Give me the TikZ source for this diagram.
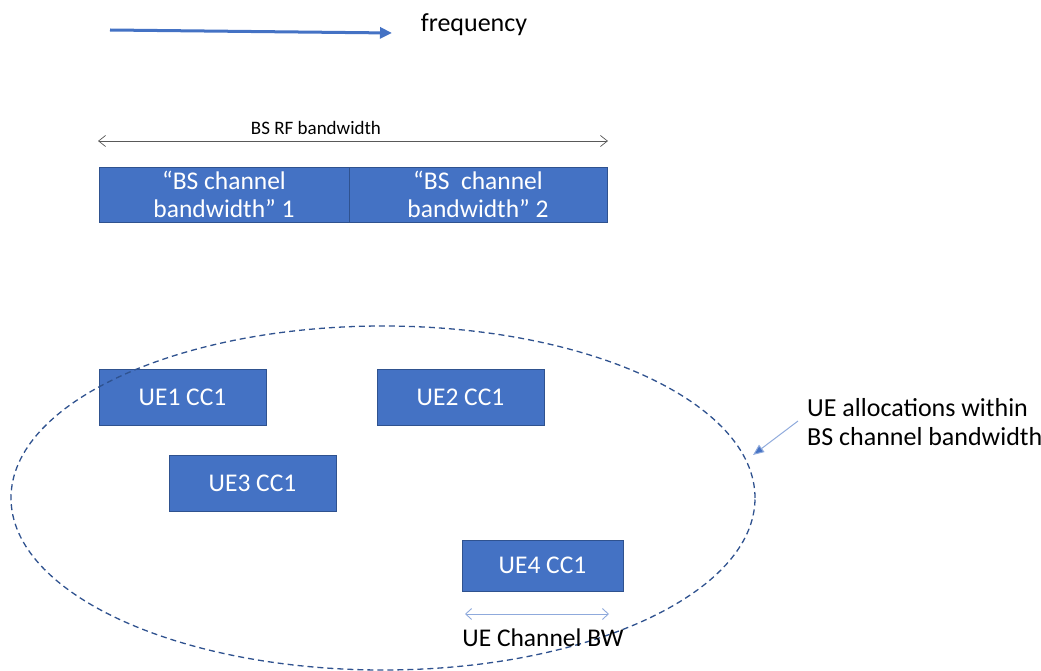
\documentclass[tikz,border=0pt]{standalone}
\usepackage{fontspec}
\setmainfont{Carlito}
\usetikzlibrary{arrows.meta,shapes.geometric}
\definecolor{accent}{HTML}{4472C4}
\definecolor{accentdark}{HTML}{2F528F}
\definecolor{accentlight}{HTML}{8FAADC}
\definecolor{guide}{HTML}{595959}
\tikzset{
  band/.style={draw=accentdark, line width=0.8pt, fill=accent, text=white,
    font=\fontsize{25.5}{28}\selectfont, align=center, inner sep=0pt},
  label/.style={text=black, inner sep=0pt},
}
\begin{document}
\begin{tikzpicture}[x=1pt,y=1pt]
\useasboundingbox (0,0) rectangle (1041,-671);

% frequency axis
\coordinate (fs) at (110,-30);
\coordinate (fe) at (392,-33);
\draw[accent, line width=3pt, -{Triangle[length=12pt,width=11pt]}] (fs) -- (fe);
\node[label, font=\fontsize{26}{30}\selectfont] (freq) at (474,-25) {frequency};

% RF bandwidth span
\coordinate (rfl) at (98,-141);
\coordinate (rfr) at (608,-141);
\draw[guide, line width=0.7pt, {Straight Barb[length=7pt,width=11pt]}-{Straight Barb[length=7pt,width=11pt]}] (rfl) -- (rfr);
\node[label, font=\fontsize{19}{22}\selectfont] (rf) at (316,-128) {BS RF bandwidth};

% BS channel bandwidths
\node[band, minimum width=250pt, minimum height=55pt] (bs1) at (224,-194.5)
  {“BS channel\\bandwidth” 1};
\node[band, minimum width=258pt, minimum height=55pt] (bs2) at (478,-194.5)
  {“BS\ \ channel\\bandwidth” 2};

% UE allocations
\node[band, minimum width=167pt, minimum height=56pt] (ue1) at (182.5,-397) {UE1 CC1};
\node[band, minimum width=167pt, minimum height=56pt] (ue2) at (460.5,-397) {UE2 CC1};
\node[band, minimum width=167pt, minimum height=56pt] (ue3) at (252.5,-483) {UE3 CC1};
\node[band, minimum width=161pt, minimum height=51pt] (ue4) at (542.5,-565.5) {UE4 CC1};

% grouping ellipse
\node[ellipse, draw=accentdark, dashed, dash pattern=on 6pt off 4pt, line width=1.3pt,
  minimum width=744pt, minimum height=344pt, inner sep=0pt] (grp) at (383,-498) {};

% UE channel bandwidth span
\coordinate (uel) at (465,-614);
\coordinate (uer) at (609,-614);
\draw[accentlight, line width=0.9pt, {Straight Barb[length=6pt,width=11pt]}-{Straight Barb[length=6pt,width=11pt]}] (uel) -- (uer);
\node[label, font=\fontsize{25.5}{28}\selectfont] (uebw) at (543,-638) {UE Channel BW};

% callout
\node[label, font=\fontsize{26}{29}\selectfont, align=left, anchor=west] (note) at (807,-422)
  {UE allocations within\\BS channel bandwidth};
\coordinate (tip) at (753,-455);
\draw[accentlight, line width=1pt, -{Triangle[length=11pt,width=9pt,fill=accent]}] (798,-421) -- (tip);
\end{tikzpicture}
\end{document}
